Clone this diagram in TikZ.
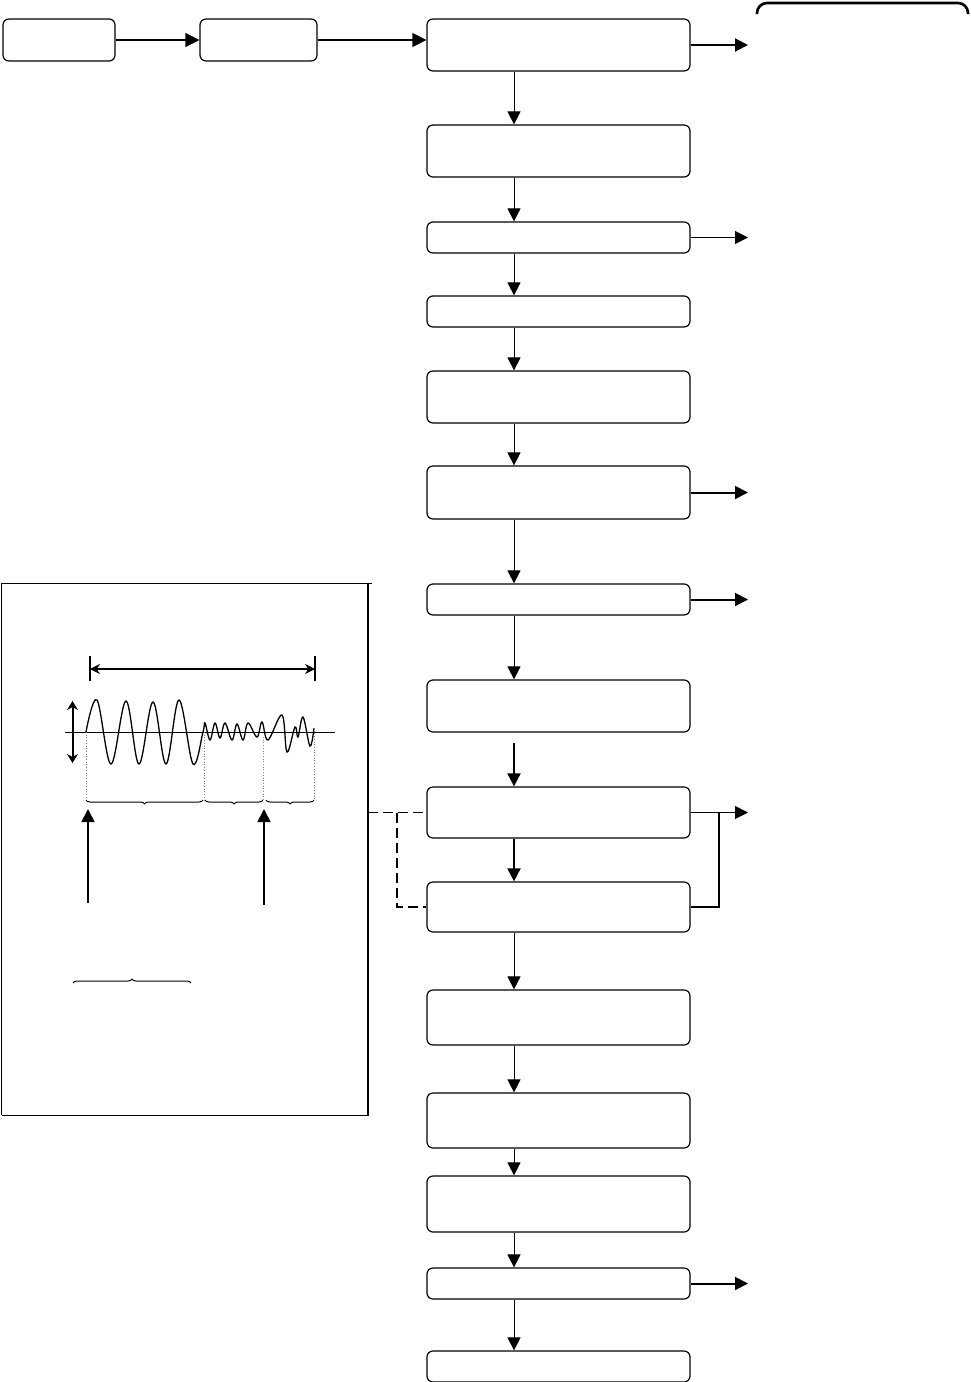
\documentclass[tikz,border=0pt]{standalone}
\usetikzlibrary{arrows.meta,decorations.pathreplacing,calc}
\begin{document}
\begin{tikzpicture}[x=1pt,y=-1pt,
  box/.style={draw,rounded corners=6pt,line width=1.2pt,inner sep=0pt,minimum width=263pt},
  sbox/.style={draw,rounded corners=6pt,line width=1.2pt,inner sep=0pt,minimum height=42pt},
  arr/.style={-{Triangle[length=13pt,width=13pt]},line width=1.3pt},
  thinarr/.style={-{Triangle[length=13pt,width=13pt]},line width=0.9pt},
  dashline/.style={dashed,dash pattern=on 10pt off 5pt,line width=1.1pt},
  ubrace/.style={decorate,decoration={brace,amplitude=4pt},line width=1pt}]
\useasboundingbox (0,0) rectangle (970,1382);
% top row
\node[sbox,minimum width=112pt] (A) at (59,40) {};
\node[sbox,minimum width=117pt] (B) at (258.5,40) {};
% main column
\node[box,minimum height=52pt] (b1) at (558.5,45) {};
\node[box,minimum height=52pt] (b2) at (558.5,151) {};
\node[box,minimum height=31pt] (b3) at (558.5,237.5) {};
\node[box,minimum height=31pt] (b4) at (558.5,311.5) {};
\node[box,minimum height=52pt] (b5) at (558.5,397) {};
\node[box,minimum height=53pt] (b6) at (558.5,492.5) {};
\node[box,minimum height=31pt] (b7) at (558.5,599.5) {};
\node[box,minimum height=52pt] (b8) at (558.5,706) {};
\node[box,minimum height=51pt] (b9) at (558.5,812.5) {};
\node[box,minimum height=50pt] (b10) at (558.5,907) {};
\node[box,minimum height=55pt] (b11) at (558.5,1017.5) {};
\node[box,minimum height=55pt] (b12) at (558.5,1120.5) {};
\node[box,minimum height=56pt] (b13) at (558.5,1204) {};
\node[box,minimum height=31pt] (b14) at (558.5,1283.5) {};
\node[box,minimum height=31pt] (b15) at (558.5,1366.5) {};
\coordinate (ax) at (514,0);
\coordinate (rx) at (748,0);
\coordinate (bx) at (719,0);
\coordinate (c89) at (514,743);
% top arrows
\draw[arr,-{Triangle[length=14pt,width=14pt]}] (A.east) -- (B.west);
\draw[arr,-{Triangle[length=14pt,width=14pt]}] (B.east) -- (B.east -| b1.west);
% vertical arrows
\draw[thinarr] (b1.south -| ax) -- (b2.north -| ax);
\draw[thinarr] (b2.south -| ax) -- (b3.north -| ax);
\draw[thinarr] (b3.south -| ax) -- (b4.north -| ax);
\draw[thinarr] (b4.south -| ax) -- (b5.north -| ax);
\draw[thinarr] (b5.south -| ax) -- (b6.north -| ax);
\draw[thinarr] (b6.south -| ax) -- (b7.north -| ax);
\draw[thinarr] (b7.south -| ax) -- (b8.north -| ax);
\draw[arr,line width=1.8pt] (c89) -- (b9.north -| ax);
\draw[arr,line width=1.8pt] (b9.south -| ax) -- (b10.north -| ax);
\draw[thinarr] (b10.south -| ax) -- (b11.north -| ax);
\draw[thinarr] (b11.south -| ax) -- (b12.north -| ax);
\draw[thinarr] (b12.south -| ax) -- (b13.north -| ax);
\draw[thinarr] (b13.south -| ax) -- (b14.north -| ax);
\draw[thinarr] (b14.south -| ax) -- (b15.north -| ax);
% right arrows
\draw[arr,line width=2pt] (b1.east) -- (b1.east -| rx);
\draw[thinarr] (b3.east) -- (b3.east -| rx);
\draw[arr,line width=2pt] (b6.east) -- (b6.east -| rx);
\draw[arr,line width=2pt] (b7.east) -- (b7.east -| rx);
\draw[thinarr] (b9.east) -- (b9.east -| rx);
\draw[arr,line width=2pt] (b14.east) -- (b14.east -| rx);
\draw[line width=1.8pt] (b9.east -| bx) |- (b10.east);
% top right bracket
\draw[line width=2.6pt,rounded corners=10pt] (757,14) -- (757,3) -- (968,3) -- (968,14);
% left panel
\draw[line width=1pt] (1.5,1115) -- (1.5,583) -- (372,583);
\draw[line width=1pt] (1.5,1115) -- (368,1115);
\draw[line width=2.4pt] (368,583) -- (368,1116);
\coordinate (pe) at (368,0);
\coordinate (dj) at (397,0);
\draw[dashline] (b9.west -| pe) -- (b9.west);
\draw[dashline] (b9.west -| dj) |- (b10.west);
% signal diagram
\draw[{Stealth[length=10pt,width=10pt]}-{Stealth[length=10pt,width=10pt]},line width=1.1pt] (90,669) -- (315,669);
\draw[line width=1.5pt] (90,656) -- (90,681) (315,656) -- (315,681);
\draw[{Stealth[length=9pt,width=11pt]}-{Stealth[length=9pt,width=11pt]},line width=2pt] (72.5,701) -- (72.5,763);
\draw[line width=0.7pt] (65,732) -- (335,732);
\draw[line width=1.3pt] plot[smooth,tension=0.6] coordinates {
 (86,732) (97,700) (111,764) (126,701) (139,764) (153,702) (166,764) (179,700) (193,764) (203,732)
 (205,723) (210,740) (215,723) (220,738) (225,723) (232,740) (237,724) (243,740) (248,723) (257,737) (262,722)
 (268,740) (282,715) (287,752) (295,727) (298,737) (303,717) (310,746) (314,728)};
\draw[dotted,line width=0.7pt,gray] (86,732) -- (86,800) (204,732) -- (204,800) (263,737) -- (263,800) (314,728) -- (314,800);
\draw[ubrace] (203,800) -- (86,800);
\draw[ubrace] (263,800) -- (205,800);
\draw[ubrace] (314,800) -- (266,800);
\draw[arr,line width=1.8pt] (88,903) -- (88,809);
\draw[arr,line width=1.8pt] (264,905) -- (264,809);
\draw[ubrace] (73,983) -- (191,983);
\end{tikzpicture}
\end{document}
